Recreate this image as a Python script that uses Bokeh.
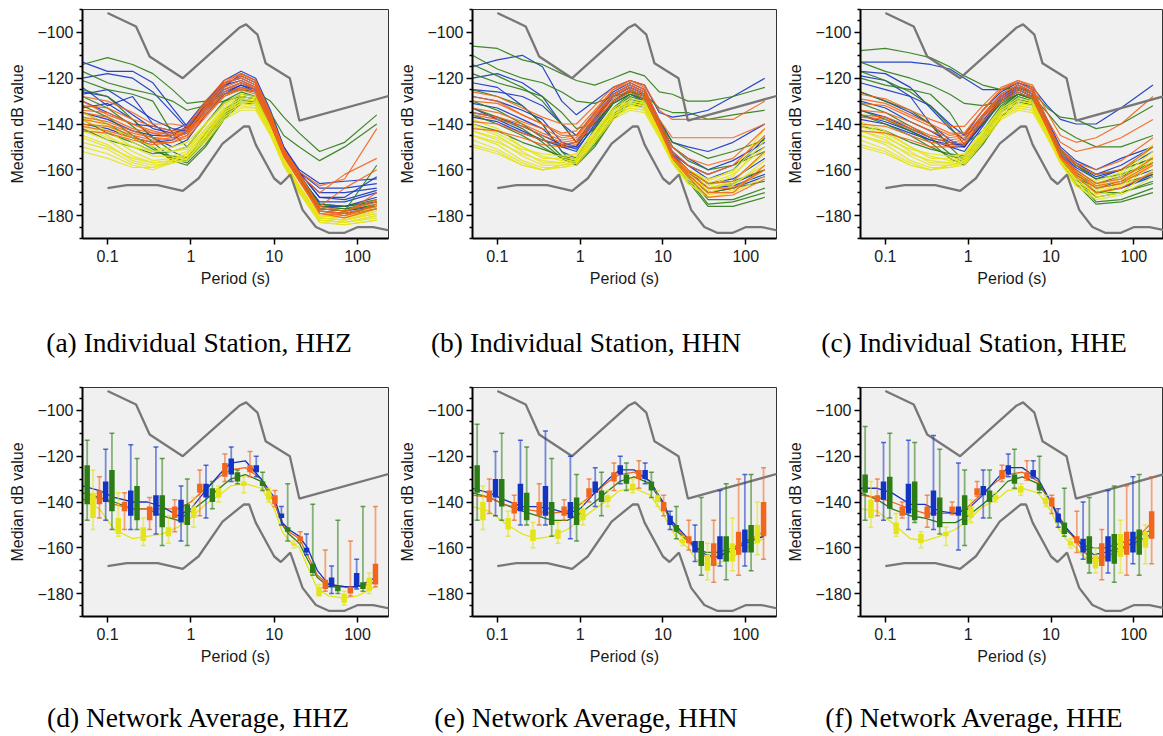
from bokeh.plotting import figure
from bokeh.layouts import row, column
from bokeh.models import Range1d, FixedTicker, CustomJSTickFormatter, Div
from bokeh.embed import file_html
from bokeh.resources import INLINE

# ---------------- reference noise models ----------------
NHNM_P = [0.1, 0.22, 0.32, 0.8, 3.8, 4.6, 6.3, 7.9, 15.4, 20.0, 354.8]
NHNM_DB = [-91.5, -97.4, -110.5, -120.0, -98.0, -96.5, -101.0, -113.5, -120.0, -138.5, -126.0]
NLNM_P = [0.1, 0.17, 0.4, 0.8, 1.24, 2.4, 4.3, 5.0, 6.0, 10.0, 12.0, 15.6, 21.9, 31.6, 45.0, 70.0, 101.0, 154.0, 328.0]
NLNM_DB = [-168.0, -166.7, -166.7, -169.2, -163.7, -148.6, -141.1, -141.1, -149.0, -163.8, -166.2, -162.1,
           -177.5, -185.0, -187.5, -187.5, -185.0, -185.0, -187.5]

# ---------------- individual station medians (panels a-c) ----------------
PERIODS = [0.05, 0.1, 0.2, 0.35, 0.6, 0.9, 1.5, 2.5, 4, 6, 9, 13, 20, 35, 70, 170]

A_BLUE = [
    [-113, -117, -117, -122, -133, -141, -133, -124, -118, -121, -135, -150, -160, -166, -165, -164],
    [-120, -118, -120, -126, -135, -142, -132, -123, -119, -122, -136, -151, -161, -168, -168, -166],
    [-127, -125, -132, -138, -142, -143, -131, -123, -121, -124, -137, -152, -162, -170, -170, -168],
    [-130, -135, -140, -141, -143, -140, -130, -122, -120, -123, -137, -151, -161, -172, -172, -163],
    [-135, -138, -143, -145, -145, -141, -132, -125, -122, -125, -138, -152, -163, -174, -174, -170],
    [-124, -132, -128, -140, -146, -144, -134, -127, -124, -126, -139, -153, -163, -176, -176, -174],
    [-140, -142, -146, -148, -147, -143, -133, -126, -123, -126, -139, -153, -164, -177, -178, -176],
    [-126, -128, -136, -142, -144, -142, -131, -121, -117, -120, -134, -150, -161, -172, -173, -169],
    [-133, -131, -138, -146, -150, -147, -136, -127, -123, -125, -138, -152, -162, -175, -176, -172],
]
A_GREEN = [
    [-114, -111, -114, -118, -125, -131, -130, -127, -125, -126, -130, -137, -144, -152, -148, -136],
    [-117, -122, -125, -127, -130, -134, -132, -130, -128, -129, -135, -145, -150, -156, -150, -140],
    [-121, -125, -127, -130, -144, -150, -140, -130, -126, -128, -139, -153, -163, -177, -178, -175],
    [-125, -128, -138, -146, -152, -155, -146, -135, -129, -130, -140, -153, -164, -178, -179, -177],
    [-132, -137, -145, -150, -156, -158, -150, -138, -131, -131, -141, -154, -164, -178, -179, -176],
    [-138, -144, -148, -152, -154, -155, -144, -134, -128, -129, -140, -153, -164, -177, -178, -158],
    [-142, -147, -150, -153, -152, -150, -140, -131, -127, -128, -139, -152, -163, -176, -177, -174],
    [-128, -133, -141, -148, -155, -157, -149, -137, -130, -130, -140, -153, -163, -176, -177, -176],
    [-135, -140, -146, -151, -155, -156, -147, -136, -130, -130, -139, -152, -162, -175, -176, -173],
]
A_ORANGE = [
    [-128, -130, -135, -140, -140, -141, -130, -121, -118, -121, -135, -151, -161, -167, -164, -142],
    [-132, -133, -138, -141, -143, -142, -131, -122, -120, -123, -137, -152, -162, -170, -162, -155],
    [-135, -137, -142, -144, -144, -143, -133, -124, -121, -124, -138, -152, -163, -176, -168, -160],
    [-137, -139, -143, -146, -145, -143, -134, -125, -122, -125, -139, -153, -164, -178, -179, -170],
    [-140, -141, -145, -147, -146, -144, -135, -127, -124, -126, -140, -154, -165, -178, -180, -175],
    [-143, -144, -147, -149, -148, -145, -136, -128, -125, -127, -140, -154, -165, -179, -181, -177],
    [-130, -136, -140, -143, -145, -144, -133, -123, -119, -122, -136, -151, -162, -176, -178, -173],
    [-134, -135, -140, -144, -146, -144, -132, -122, -118, -121, -136, -151, -162, -177, -178, -174],
    [-138, -140, -144, -146, -147, -145, -135, -126, -122, -124, -138, -153, -164, -178, -179, -176],
    [-141, -143, -146, -148, -148, -146, -137, -128, -124, -126, -139, -153, -164, -179, -180, -177],
]
A_YELLOW = [
    [-135, -140, -148, -152, -152, -150, -140, -131, -127, -128, -141, -155, -167, -180, -181, -176],
    [-138, -143, -150, -154, -154, -152, -142, -133, -129, -130, -142, -156, -168, -181, -182, -178],
    [-140, -145, -152, -156, -155, -153, -144, -134, -130, -131, -143, -157, -168, -181, -182, -179],
    [-143, -147, -154, -157, -156, -154, -145, -135, -131, -132, -143, -157, -169, -182, -183, -180],
    [-145, -149, -156, -158, -157, -155, -147, -137, -133, -133, -144, -158, -169, -182, -183, -181],
    [-148, -151, -157, -159, -157, -156, -148, -138, -134, -134, -145, -158, -170, -183, -184, -182],
    [-141, -146, -150, -152, -150, -148, -140, -132, -128, -129, -142, -156, -168, -180, -181, -177],
    [-150, -153, -158, -160, -157, -155, -146, -136, -132, -133, -144, -158, -169, -182, -183, -180],
    [-137, -141, -146, -150, -152, -151, -142, -133, -129, -130, -142, -156, -167, -180, -181, -178],
    [-146, -150, -155, -157, -156, -153, -143, -134, -130, -131, -143, -157, -168, -181, -182, -179],
    [-152, -155, -159, -159, -156, -154, -145, -135, -131, -132, -144, -158, -170, -183, -184, -182],
]

B_BLUE = [
    [-115, -112, -110, -115, -130, -136, -130, -124, -121, -123, -135, -137, -136, -134, -128, -120],
    [-125, -126, -128, -132, -140, -145, -135, -126, -122, -125, -138, -148, -150, -152, -148, -140],
    [-128, -130, -134, -138, -148, -150, -138, -128, -124, -127, -140, -152, -158, -162, -158, -150],
    [-131, -133, -138, -142, -150, -152, -140, -130, -125, -128, -141, -153, -160, -166, -164, -155],
    [-135, -137, -141, -145, -149, -151, -141, -130, -126, -129, -142, -154, -160, -168, -166, -160],
    [-122, -124, -132, -140, -152, -155, -142, -131, -127, -130, -142, -154, -162, -170, -168, -163],
    [-133, -138, -143, -147, -150, -150, -139, -128, -124, -127, -140, -153, -158, -164, -160, -146],
    [-120, -118, -122, -128, -140, -148, -137, -127, -123, -126, -139, -150, -155, -160, -156, -148],
    [-137, -139, -144, -147, -149, -148, -138, -127, -123, -126, -140, -153, -161, -168, -167, -162],
]
B_GREEN = [
    [-106, -107, -112, -114, -118, -121, -123, -120, -117, -119, -126, -127, -130, -130, -128, -124],
    [-110, -116, -120, -122, -126, -130, -131, -128, -126, -127, -133, -135, -135, -138, -136, -134],
    [-118, -122, -125, -128, -135, -142, -140, -130, -126, -128, -139, -148, -151, -155, -152, -147],
    [-125, -128, -132, -140, -152, -158, -148, -136, -129, -131, -142, -154, -160, -166, -165, -160],
    [-130, -134, -140, -146, -154, -157, -149, -137, -130, -132, -143, -155, -163, -173, -173, -168],
    [-136, -140, -145, -150, -155, -156, -146, -134, -128, -130, -142, -155, -164, -175, -174, -170],
    [-140, -143, -148, -151, -154, -155, -145, -133, -127, -129, -141, -154, -162, -170, -168, -165],
    [-114, -119, -124, -130, -140, -148, -142, -131, -127, -129, -140, -150, -156, -160, -158, -152],
    [-133, -137, -142, -148, -155, -158, -150, -138, -131, -133, -144, -156, -165, -176, -176, -172],
]
B_ORANGE = [
    [-126, -128, -133, -137, -140, -140, -132, -124, -121, -123, -134, -138, -138, -138, -138, -130],
    [-130, -131, -136, -140, -144, -143, -134, -125, -122, -125, -138, -146, -146, -146, -146, -140],
    [-133, -135, -139, -142, -146, -145, -136, -127, -123, -126, -140, -152, -158, -162, -158, -145],
    [-136, -138, -141, -145, -148, -147, -137, -128, -124, -127, -141, -153, -160, -166, -165, -152],
    [-139, -140, -144, -147, -149, -148, -138, -129, -125, -128, -142, -154, -162, -170, -170, -158],
    [-142, -143, -146, -149, -150, -149, -139, -130, -126, -129, -142, -155, -163, -172, -171, -164],
    [-128, -130, -136, -140, -145, -145, -135, -125, -121, -124, -139, -150, -155, -158, -155, -142],
    [-135, -137, -140, -144, -147, -146, -136, -127, -123, -126, -141, -154, -161, -168, -168, -160],
]
B_YELLOW = [
    [-138, -142, -150, -155, -155, -153, -143, -134, -130, -131, -143, -155, -160, -165, -160, -142],
    [-141, -145, -152, -157, -157, -155, -145, -135, -131, -132, -144, -156, -162, -167, -163, -147],
    [-143, -147, -154, -158, -158, -156, -146, -136, -132, -133, -145, -156, -164, -169, -165, -152],
    [-145, -149, -156, -159, -159, -157, -147, -137, -133, -134, -145, -157, -165, -170, -167, -156],
    [-147, -151, -157, -160, -159, -158, -148, -138, -134, -135, -146, -157, -166, -171, -169, -160],
    [-140, -144, -150, -154, -156, -154, -144, -134, -130, -131, -143, -155, -161, -166, -162, -150],
    [-149, -152, -158, -160, -158, -157, -147, -137, -133, -134, -145, -156, -164, -168, -166, -158],
    [-143, -146, -151, -153, -154, -153, -143, -133, -129, -130, -143, -155, -160, -164, -161, -145],
    [-145, -148, -153, -156, -157, -155, -145, -135, -131, -132, -144, -156, -163, -168, -165, -153],
    [-150, -153, -158, -160, -158, -156, -146, -136, -132, -133, -145, -157, -166, -172, -170, -163],
]

C_BLUE = [
    [-113, -113, -113, -114, -116, -120, -125, -125, -122, -124, -132, -138, -140, -140, -133, -123],
    [-122, -125, -128, -132, -140, -145, -134, -126, -122, -125, -138, -150, -156, -160, -155, -150],
    [-126, -130, -135, -140, -147, -150, -137, -128, -123, -126, -140, -152, -158, -163, -160, -155],
    [-130, -133, -139, -143, -148, -150, -139, -129, -124, -127, -141, -153, -160, -166, -163, -157],
    [-134, -137, -142, -146, -148, -149, -140, -130, -125, -128, -142, -154, -162, -168, -165, -160],
    [-119, -121, -128, -140, -150, -152, -141, -130, -126, -129, -142, -154, -161, -170, -168, -162],
    [-138, -140, -144, -147, -150, -150, -140, -129, -125, -128, -141, -153, -159, -164, -160, -152],
    [-117, -118, -124, -133, -142, -147, -136, -127, -123, -126, -139, -151, -157, -162, -158, -150],
    [-136, -139, -143, -147, -149, -149, -139, -128, -124, -127, -141, -154, -162, -170, -168, -163],
]
C_GREEN = [
    [-108, -107, -109, -111, -115, -119, -123, -125, -124, -126, -133, -137, -138, -142, -140, -132],
    [-113, -117, -120, -123, -127, -131, -132, -130, -127, -128, -135, -142, -146, -150, -150, -145],
    [-120, -123, -125, -127, -135, -145, -140, -131, -127, -129, -140, -152, -158, -162, -160, -155],
    [-126, -130, -134, -140, -150, -156, -147, -135, -129, -131, -143, -155, -162, -170, -170, -165],
    [-131, -135, -141, -146, -153, -157, -148, -137, -130, -132, -144, -156, -164, -174, -173, -168],
    [-136, -140, -145, -150, -154, -155, -146, -134, -128, -130, -142, -155, -164, -172, -170, -166],
    [-141, -143, -148, -151, -153, -154, -145, -133, -127, -129, -141, -154, -161, -168, -166, -162],
    [-117, -121, -126, -132, -141, -149, -143, -132, -127, -129, -141, -152, -158, -164, -162, -157],
    [-134, -138, -143, -148, -155, -158, -149, -137, -130, -132, -144, -156, -166, -175, -174, -170],
]
C_ORANGE = [
    [-127, -129, -134, -138, -141, -141, -132, -124, -121, -123, -135, -145, -148, -146, -140, -128],
    [-131, -132, -137, -141, -145, -144, -134, -125, -122, -125, -138, -148, -152, -150, -146, -138],
    [-134, -135, -139, -143, -146, -145, -136, -127, -123, -126, -140, -152, -158, -162, -160, -150],
    [-137, -138, -142, -146, -148, -147, -137, -128, -124, -127, -141, -153, -160, -166, -164, -155],
    [-140, -141, -145, -148, -149, -148, -138, -129, -125, -128, -142, -154, -162, -168, -166, -158],
    [-143, -144, -147, -150, -150, -149, -139, -130, -126, -129, -142, -155, -163, -170, -168, -161],
    [-129, -131, -136, -140, -144, -144, -134, -125, -121, -124, -139, -151, -157, -160, -156, -146],
    [-136, -137, -141, -145, -147, -146, -136, -127, -123, -126, -141, -154, -161, -167, -165, -157],
]
C_YELLOW = [
    [-139, -143, -150, -155, -155, -153, -143, -134, -130, -131, -143, -155, -162, -166, -162, -150],
    [-141, -145, -152, -157, -157, -155, -145, -135, -131, -132, -144, -156, -164, -168, -164, -154],
    [-143, -147, -154, -158, -158, -156, -146, -136, -132, -133, -145, -156, -165, -170, -166, -156],
    [-145, -149, -156, -159, -159, -157, -147, -137, -133, -134, -145, -157, -166, -171, -168, -158],
    [-147, -151, -157, -160, -159, -158, -148, -138, -134, -135, -146, -157, -167, -172, -170, -160],
    [-140, -144, -150, -154, -156, -154, -144, -134, -130, -131, -143, -155, -163, -167, -163, -152],
    [-149, -152, -158, -160, -158, -157, -147, -137, -133, -134, -145, -156, -165, -170, -167, -157],
    [-143, -146, -151, -153, -154, -153, -143, -133, -129, -130, -143, -155, -161, -165, -161, -149],
    [-145, -148, -153, -156, -157, -155, -145, -135, -131, -132, -144, -156, -164, -169, -165, -155],
    [-150, -153, -158, -160, -158, -156, -146, -136, -132, -133, -145, -157, -167, -173, -171, -163],
]

# ---------------- network averages (panels d-f) ----------------
MED_P = [0.05, 0.08, 0.12, 0.2, 0.3, 0.45, 0.7, 1.0, 1.5, 2.2, 3, 4.5, 7, 10, 12.5, 15, 20, 25, 33, 45, 70, 100, 165]

D_MED_BLUE = [-133, -135, -138, -140, -140, -142, -146, -143, -135, -128, -123, -122, -130, -138, -149, -152, -155, -160, -170, -176, -177, -177, -173]
D_MED_ORANGE = [-139, -138, -141, -143, -143, -143, -143, -140, -134, -129, -126, -125, -130, -140, -149, -153, -156, -163, -172, -176, -177, -177, -175]
D_MED_GREEN = [-136, -138, -140, -143, -143, -146, -148, -144, -139, -134, -130, -128, -131, -140, -150, -154, -158, -165, -173, -177, -177, -177, -175]
D_MED_YELLOW = [-139, -143, -152, -156, -155, -154, -151, -147, -141, -137, -133, -132, -134, -143, -153, -157, -160, -168, -178, -181, -182, -181, -177]

E_MED_BLUE = [-134, -136, -139, -142, -142, -143, -145, -143, -136, -130, -126, -126, -131, -140, -148, -151, -156, -160, -163, -164, -161, -158, -155]
E_MED_ORANGE = [-137, -138, -141, -143, -144, -145, -144, -141, -136, -131, -128, -127, -131, -140, -148, -152, -157, -161, -164, -164, -161, -157, -153]
E_MED_GREEN = [-136, -138, -141, -144, -146, -148, -148, -145, -140, -135, -131, -129, -132, -141, -149, -153, -157, -160, -162, -162, -160, -157, -155]
E_MED_YELLOW = [-142, -144, -149, -154, -156, -155, -152, -148, -143, -139, -135, -134, -137, -145, -152, -156, -160, -165, -167, -167, -164, -160, -156]

F_MED_BLUE = [-134, -134, -136, -141, -141, -144, -145, -143, -137, -130, -125, -125, -130, -140, -147, -151, -156, -160, -163, -162, -160, -158, -154]
F_MED_ORANGE = [-137, -138, -140, -143, -145, -145, -145, -142, -136, -131, -128, -127, -131, -140, -146, -151, -157, -162, -165, -164, -161, -157, -149]
F_MED_GREEN = [-136, -139, -143, -146, -147, -149, -149, -146, -141, -136, -131, -129, -132, -140, -148, -152, -156, -159, -160, -160, -158, -156, -152]
F_MED_YELLOW = [-143, -144, -149, -156, -157, -155, -152, -148, -142, -139, -135, -134, -136, -144, -152, -156, -160, -164, -166, -165, -162, -159, -155]

# box positions (period, s)
BOX_P_GREEN = [0.057, 0.113, 0.226, 0.453, 0.906, 1.81, 3.62, 7.25, 14.5, 29.0, 58.0, 116.0]
BOX_P_YELLOW = [0.067, 0.135, 0.269, 0.539, 1.08, 2.15, 4.31, 8.62, 17.2, 34.5, 69.0, 138.0]
BOX_P_ORANGE = [0.080, 0.160, 0.320, 0.640, 1.28, 2.56, 5.12, 10.2, 20.5, 41.0, 82.0, 164.0]
BOX_P_BLUE = [0.095, 0.190, 0.381, 0.762, 1.52, 3.05, 6.09, 12.2, 24.4, 48.8, 97.5]

# each box: [whisker top, box top, box bottom, whisker bottom] (dB)
D_BOX_GREEN = [[-113, -124, -141, -148], [-110, -126, -144, -152], [-121, -133, -148, -152], [-121, -137, -151, -159],
               [-130, -141, -150, -159], [-131, -134, -140, -143], [-126, -127, -131, -132], [-127, -131, -133, -135],
               [-132, -151, -153, -157], [-141, -167, -171, -172], [-148, -177, -179, -180], [-142, -175, -178, -179]]
D_BOX_YELLOW = [[-126, -136, -147, -152], [-136, -147, -154, -155], [-147, -151, -157, -159], [-146, -151, -155, -158],
                [-138, -142, -147, -151], [-133, -134, -138, -140], [-129, -131, -133, -136], [-134, -135, -139, -140],
                [-157, -158, -159, -160], [-176, -177, -181, -181], [-179, -180, -184, -185], [-171, -173, -179, -180]]
D_BOX_ORANGE = [[-129, -135, -141, -147], [-136, -140, -144, -152], [-138, -142, -148, -152], [-139, -142, -147, -153],
                [-126, -132, -136, -146], [-119, -123, -129, -131], [-118, -124, -127, -129], [-135, -137, -141, -142],
                [-153, -155, -157, -158], [-161, -174, -178, -179], [-157, -177, -180, -181], [-142, -167, -176, -177]]
D_BOX_BLUE = [[-117, -131, -140, -148], [-115, -135, -146, -152], [-116, -137, -146, -154], [-133, -139, -149, -157],
              [-124, -132, -138, -147], [-116, -121, -128, -131], [-120, -124, -127, -129], [-142, -145, -147, -150],
              [-154, -160, -162, -163], [-168, -173, -177, -180], [-165, -171, -177, -178]]

E_BOX_GREEN = [[-106, -124, -136, -148], [-110, -130, -142, -148], [-116, -136, -148, -150], [-121, -140, -150, -155],
               [-128, -138, -150, -157], [-127, -135, -140, -146], [-123, -128, -132, -135], [-127, -131, -135, -138],
               [-142, -150, -153, -156], [-138, -157, -168, -172], [-132, -155, -166, -174], [-128, -150, -162, -170]]
E_BOX_YELLOW = [[-133, -140, -148, -152], [-144, -147, -152, -155], [-149, -152, -157, -160], [-149, -152, -156, -158],
                [-140, -143, -148, -150], [-135, -137, -140, -142], [-130, -132, -135, -136], [-135, -137, -140, -142],
                [-155, -156, -158, -159], [-158, -163, -170, -174], [-147, -158, -166, -170], [-140, -150, -158, -163]]
E_BOX_ORANGE = [[-130, -135, -140, -145], [-137, -140, -145, -148], [-132, -140, -146, -150], [-139, -142, -146, -148],
                [-130, -134, -138, -140], [-123, -127, -131, -135], [-122, -126, -130, -134], [-137, -140, -144, -146],
                [-148, -155, -158, -161], [-148, -158, -168, -175], [-130, -153, -163, -172], [-125, -140, -155, -165]]
E_BOX_BLUE = [[-118, -130, -138, -146], [-113, -132, -144, -150], [-109, -133, -146, -150], [-120, -140, -147, -156],
              [-125, -131, -136, -142], [-120, -124, -128, -132], [-123, -126, -130, -132], [-144, -146, -150, -152],
              [-150, -157, -162, -166], [-135, -155, -165, -168], [-128, -152, -162, -168]]

F_BOX_GREEN = [[-107, -128, -136, -148], [-110, -129, -143, -147], [-114, -131, -148, -149], [-117, -138, -151, -154],
               [-126, -137, -150, -159], [-126, -135, -140, -147], [-117, -128, -132, -134], [-120, -132, -135, -136],
               [-134, -149, -154, -155], [-138, -155, -167, -171], [-133, -154, -167, -175], [-128, -152, -163, -172]]
F_BOX_YELLOW = [[-131, -139, -147, -151], [-145, -149, -154, -155], [-153, -154, -158, -160], [-151, -153, -155, -159],
                [-139, -142, -147, -149], [-136, -137, -139, -140], [-132, -133, -136, -137], [-137, -138, -141, -142],
                [-156, -157, -159, -160], [-160, -163, -169, -171], [-148, -154, -164, -171], [-150, -153, -160, -167]]
F_BOX_ORANGE = [[-130, -137, -140, -146], [-140, -142, -146, -147], [-137, -142, -147, -151], [-140, -142, -144.5, -145.5],
                [-131, -134, -137, -137.5], [-124, -126, -130, -131], [-122, -127, -130, -130.5], [-137, -138, -142, -145],
                [-144, -155, -158, -162], [-152, -158, -168, -174], [-133, -153, -163, -172], [-129, -144, -156, -167]]
F_BOX_BLUE = [[-114, -131, -139, -148], [-113, -132, -145, -152], [-111, -135, -146, -152], [-123, -142, -146, -161],
              [-126, -133, -137, -147], [-119, -124, -128, -129], [-122, -126, -129, -129.5], [-143, -145, -149, -151],
              [-140, -156, -162, -165], [-135, -155, -166, -171], [-129, -153, -162, -167]]

X_TICKS = [0.1, 1, 10, 100]
Y_TICKS = [-180, -160, -140, -120, -100]
Y_MINOR = [-190, -185, -175, -170, -165, -155, -150, -145, -135, -130, -125, -115, -110, -105, -95, -90]

CAPTIONS = ["(a) Individual Station, HHZ", "(b) Individual Station, HHN", "(c) Individual Station, HHE",
            "(d) Network Average, HHZ", "(e) Network Average, HHN", "(f) Network Average, HHE"]

BLUE = "#1334c2"
GREEN = "#2b7d14"
ORANGE = "#f2651c"
YELLOW = "#e4e41a"
GRAY = "#777777"
SANS = "Liberation Sans"
SERIF = "Liberation Serif"

WIDTHS = [396, 388, 379]
LEFTS = [82, 74, 74]
RIGHTS = [8, 8, 0]
X_END = [235.0, 235.0, 228.0]
CAP_CENTER = [[199, 190, 190], [198, 190, 190]]


def make_fig(i, height, top, bottom):
    p = figure(width=WIDTHS[i], height=height, x_axis_type="log",
               x_range=Range1d(0.0501, X_END[i]), y_range=Range1d(-190, -90),
               output_backend="svg", toolbar_location=None,
               min_border_left=LEFTS[i], min_border_right=RIGHTS[i],
               min_border_top=top, min_border_bottom=bottom)
    p.background_fill_color = "#f0f0f0"
    p.border_fill_color = "white"
    p.outline_line_color = "#333333"
    p.outline_line_width = 1
    p.grid.visible = False
    p.xaxis.ticker = FixedTicker(ticks=X_TICKS)
    p.xaxis.formatter = CustomJSTickFormatter(code="return String(tick);")
    p.yaxis.ticker = FixedTicker(ticks=Y_TICKS, minor_ticks=Y_MINOR)
    p.yaxis.formatter = CustomJSTickFormatter(code="return String(tick).replace('-', '\u2212');")
    p.xaxis.axis_label = "Period (s)"
    p.yaxis.axis_label = "Median dB value"
    for ax in (p.xaxis[0], p.yaxis[0]):
        ax.axis_line_width = 2
        ax.axis_line_color = "black"
        ax.major_tick_line_color = "black"
        ax.major_tick_line_width = 1.5
        ax.major_tick_in = 0
        ax.major_tick_out = 6
        ax.major_label_text_font = SANS
        ax.major_label_text_font_size = "16px"
        ax.major_label_text_color = "#1a1a1a"
        ax.axis_label_text_font = SANS
        ax.axis_label_text_font_size = "16px"
        ax.axis_label_text_font_style = "normal"
        ax.axis_label_text_color = "#1a1a1a"
    p.xaxis.minor_tick_line_color = None
    p.xaxis.axis_label_standoff = 5
    p.yaxis.major_label_standoff = 3
    p.yaxis.axis_label_standoff = 8
    p.yaxis.minor_tick_in = 0
    p.yaxis.minor_tick_out = 3
    p.yaxis.minor_tick_line_width = 1.5
    p.yaxis.minor_tick_line_color = "black"
    return p


def caption_div(i, text, height, center_y, center_x):
    html = ('<div style="width:%dpx;text-align:center;white-space:nowrap;font-family:\'%s\';'
            'font-size:27.5px;line-height:30px;color:#000;padding-top:%dpx;">%s</div>'
            % (2 * center_x, SERIF, center_y - 15, text))
    return Div(text=html, width=WIDTHS[i], height=height, margin=0)


def add_models(p):
    p.line(NHNM_P, NHNM_DB, line_color=GRAY, line_width=2.3)
    p.line(NLNM_P, NLNM_DB, line_color=GRAY, line_width=2.3)


def add_stations(p, groups):
    for curves, color in groups:
        p.multi_line([PERIODS] * len(curves), curves, line_color=color, line_width=1.2, line_alpha=0.9)


def add_network(p, meds, boxes):
    for med, color in meds:
        p.line(MED_P, med, line_color=color, line_width=1.3)
    for per, bx, color in boxes:
        wt = [b[0] for b in bx]
        bt = [b[1] for b in bx]
        bb = [b[2] for b in bx]
        wb = [b[3] for b in bx]
        p.segment(per, wt, per, wb, line_color=color, line_width=1.8, line_alpha=0.55)
        p.scatter(per, wt, marker="dash", size=5, line_color=color, line_width=1.5, line_alpha=0.7)
        p.scatter(per, wb, marker="dash", size=5, line_color=color, line_width=1.5, line_alpha=0.7)
        p.segment(per, bt, per, bb, line_color=color, line_width=5.5, line_cap="butt")


station_sets = [
    [(A_BLUE, BLUE), (A_GREEN, GREEN), (A_YELLOW, YELLOW), (A_ORANGE, ORANGE)],
    [(B_BLUE, BLUE), (B_GREEN, GREEN), (B_YELLOW, YELLOW), (B_ORANGE, ORANGE)],
    [(C_BLUE, BLUE), (C_GREEN, GREEN), (C_YELLOW, YELLOW), (C_ORANGE, ORANGE)],
]
network_sets = [
    ([(D_MED_YELLOW, YELLOW), (D_MED_GREEN, GREEN), (D_MED_ORANGE, ORANGE), (D_MED_BLUE, BLUE)],
     [(BOX_P_GREEN, D_BOX_GREEN, GREEN), (BOX_P_YELLOW, D_BOX_YELLOW, YELLOW),
      (BOX_P_ORANGE, D_BOX_ORANGE, ORANGE), (BOX_P_BLUE, D_BOX_BLUE, BLUE)]),
    ([(E_MED_YELLOW, YELLOW), (E_MED_GREEN, GREEN), (E_MED_ORANGE, ORANGE), (E_MED_BLUE, BLUE)],
     [(BOX_P_GREEN, E_BOX_GREEN, GREEN), (BOX_P_YELLOW, E_BOX_YELLOW, YELLOW),
      (BOX_P_ORANGE, E_BOX_ORANGE, ORANGE), (BOX_P_BLUE, E_BOX_BLUE, BLUE)]),
    ([(F_MED_YELLOW, YELLOW), (F_MED_GREEN, GREEN), (F_MED_ORANGE, ORANGE), (F_MED_BLUE, BLUE)],
     [(BOX_P_GREEN, F_BOX_GREEN, GREEN), (BOX_P_YELLOW, F_BOX_YELLOW, YELLOW),
      (BOX_P_ORANGE, F_BOX_ORANGE, ORANGE), (BOX_P_BLUE, F_BOX_BLUE, BLUE)]),
]

top_figs, top_caps, bottom_figs, bottom_caps = [], [], [], []
for i in range(3):
    p = make_fig(i, 300, 9, 62)
    add_stations(p, station_sets[i])
    add_models(p)
    top_figs.append(p)
    top_caps.append(caption_div(i, CAPTIONS[i], 85, 43, CAP_CENTER[0][i]))

for i in range(3):
    p = make_fig(i, 300, 2, 69)
    add_models(p)
    meds, boxes = network_sets[i]
    add_network(p, meds, boxes)
    bottom_figs.append(p)
    bottom_caps.append(caption_div(i, CAPTIONS[3 + i], 46, 33, CAP_CENTER[1][i]))

layout = column(row(*top_figs, spacing=0), row(*top_caps, spacing=0),
                row(*bottom_figs, spacing=0), row(*bottom_caps, spacing=0), spacing=0)

open("out.html", "w").write(file_html(layout, INLINE))
